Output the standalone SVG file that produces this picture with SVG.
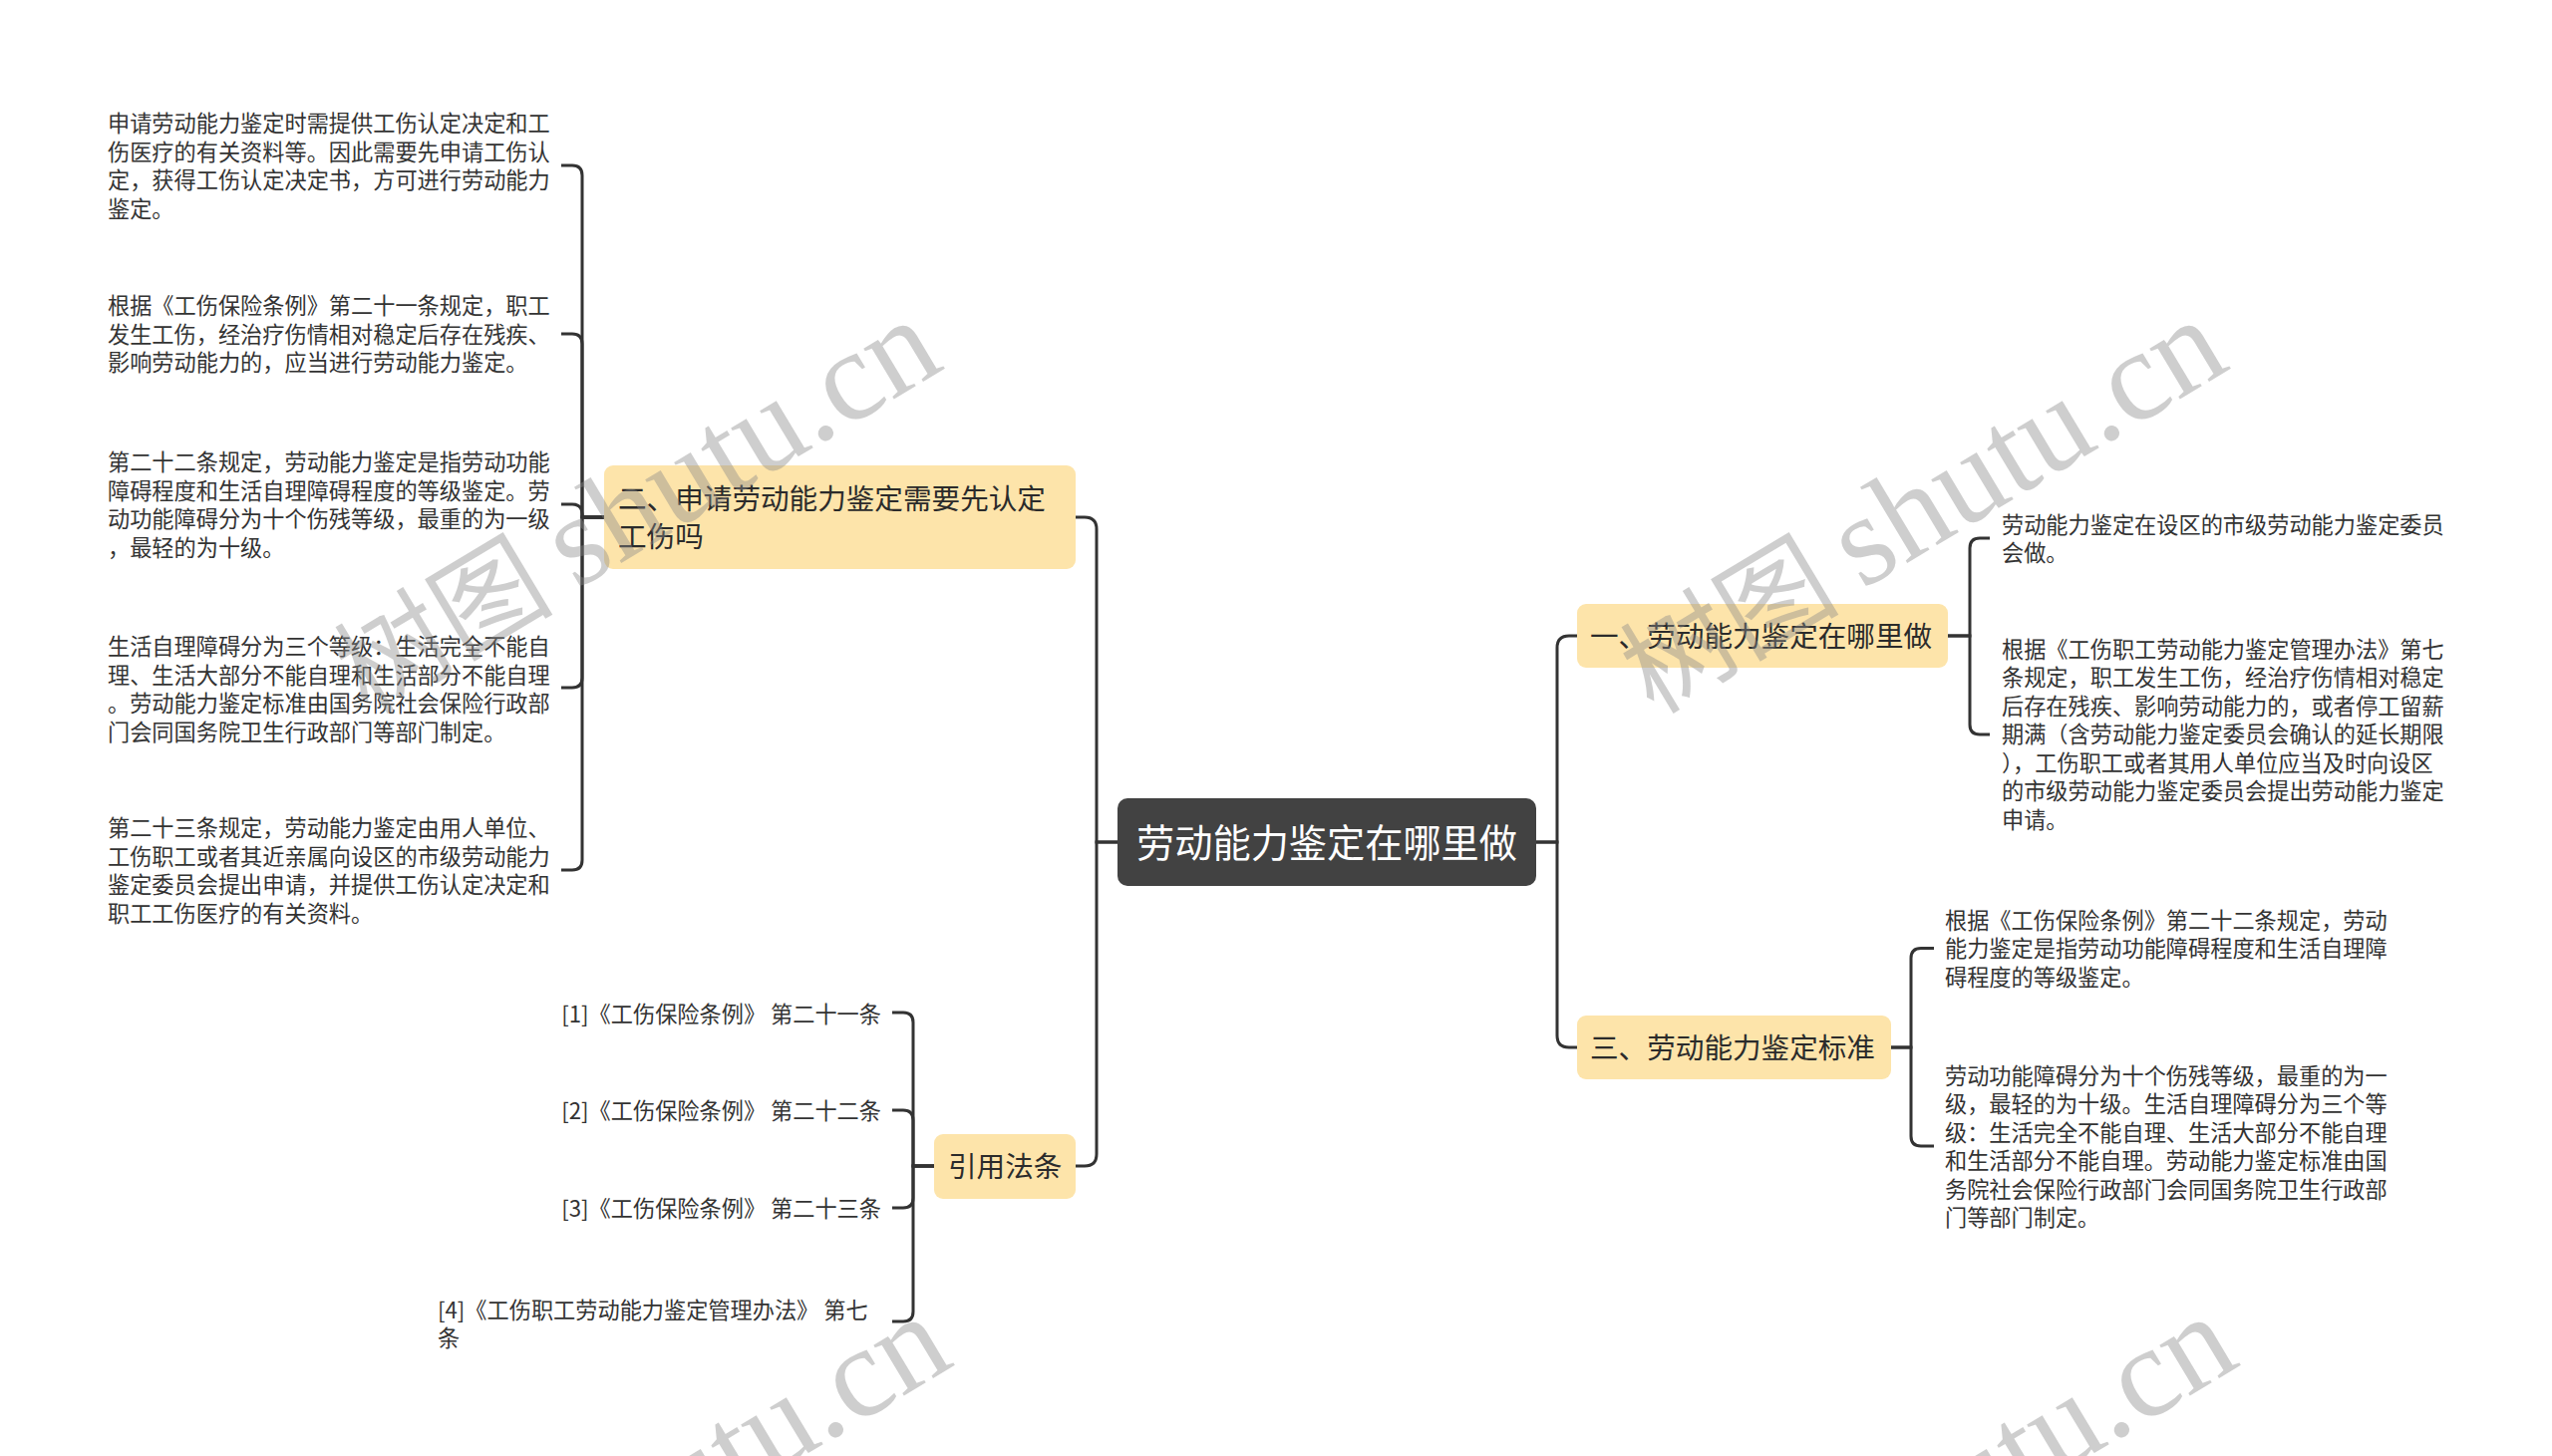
<svg xmlns="http://www.w3.org/2000/svg" width="2560" height="1461" viewBox="0 0 2560 1461">
<style>
.bg{fill:#ffffff}
.root rect{fill:#424242}
.root text{fill:#ffffff;font-family:"Noto Sans CJK SC","Noto Sans",sans-serif;font-size:38.2px}
.main rect{fill:#fde4aa}
.main text{fill:#2b2b2b;font-family:"Noto Sans CJK SC","Noto Sans",sans-serif;font-size:28.6px}
.leaf text{fill:#333333;font-family:"Noto Sans CJK SC","Noto Sans",sans-serif;font-size:22.2px}
#connectors path{fill:none;stroke:#333333;stroke-width:3;stroke-linecap:butt}
.wm text{fill:#8a8a8a;fill-opacity:0.42}
</style>
<defs>
<g id="wm" class="wm">
<g transform="translate(578,592) rotate(-31)">
<text x="-24" y="0" text-anchor="end" style="font-family:'Noto Sans CJK SC',sans-serif;font-size:110px">树图</text>
<text x="0" y="0" style="font-family:'Liberation Serif',serif;font-size:129px">shutu.cn</text>
</g>
</g>
</defs>
<rect class="bg" x="0" y="0" width="2560" height="1461"/>

<g id="connectors">
<path d="M1121 845 H1100 V531 Q1100 519 1088 519 H1079"/>
<path d="M1121 845 H1100 V1158 Q1100 1170 1088 1170 H1079"/>
<path d="M1541 845 H1562 V650 Q1562 638 1574 638 H1582"/>
<path d="M1541 845 H1562 V1039 Q1562 1051 1574 1051 H1582"/>

<path d="M606 519 H584 V176 Q584 166 574 166 H563"/>
<path d="M606 519 H584 V345 Q584 335 574 335 H563"/>
<path d="M606 519 H584 V516 Q584 506 574 506 H563"/>
<path d="M606 519 H584 V680 Q584 690 574 690 H563"/>
<path d="M606 519 H584 V863 Q584 873 574 873 H563"/>

<path d="M937 1170 H916 V1026 Q916 1016 906 1016 H895"/>
<path d="M937 1170 H916 V1124 Q916 1114 906 1114 H895"/>
<path d="M937 1170 H916 V1202 Q916 1212 906 1212 H895"/>
<path d="M937 1170 H916 V1316 Q916 1326 906 1326 H895"/>

<path d="M1954 638 H1976 V550 Q1976 540 1986 540 H1996"/>
<path d="M1954 638 H1976 V727 Q1976 737 1986 737 H1996"/>

<path d="M1897 1051 H1917 V961.5 Q1917 951.5 1927 951.5 H1940"/>
<path d="M1897 1051 H1917 V1140 Q1917 1150 1927 1150 H1940"/>
</g>

<g id="node-root" class="root">
<rect x="1121" y="801" width="420" height="88" rx="10"/>
<text x="1331" y="859.5" text-anchor="middle">劳动能力鉴定在哪里做</text>
</g>

<g id="node-2" class="main">
<rect x="606" y="467" width="473" height="104" rx="9"/>
<text x="620" y="511">二、申请劳动能力鉴定需要先认定</text>
<text x="620" y="549">工伤吗</text>
</g>

<g id="node-cite" class="main">
<rect x="937" y="1138" width="142" height="65" rx="9"/>
<text x="951" y="1181">引用法条</text>
</g>

<g id="node-1" class="main">
<rect x="1582" y="606" width="372" height="64" rx="9"/>
<text x="1595" y="649">一、劳动能力鉴定在哪里做</text>
</g>

<g id="node-3" class="main">
<rect x="1582" y="1019" width="315" height="64" rx="9"/>
<text x="1595" y="1062">三、劳动能力鉴定标准</text>
</g>

<g id="leaf-2-1" class="leaf">
<text x="108" y="132">申请劳动能力鉴定时需提供工伤认定决定和工</text>
<text x="108" y="160.5">伤医疗的有关资料等。因此需要先申请工伤认</text>
<text x="108" y="189">定，获得工伤认定决定书，方可进行劳动能力</text>
<text x="108" y="217.5">鉴定。</text>
</g>
<g id="leaf-2-2" class="leaf">
<text x="108" y="315">根据《工伤保险条例》第二十一条规定，职工</text>
<text x="108" y="343.5">发生工伤，经治疗伤情相对稳定后存在残疾、</text>
<text x="108" y="372">影响劳动能力的，应当进行劳动能力鉴定。</text>
</g>
<g id="leaf-2-3" class="leaf">
<text x="108" y="472">第二十二条规定，劳动能力鉴定是指劳动功能</text>
<text x="108" y="500.5">障碍程度和生活自理障碍程度的等级鉴定。劳</text>
<text x="108" y="529">动功能障碍分为十个伤残等级，最重的为一级</text>
<text x="108" y="557.5">，最轻的为十级。</text>
</g>
<g id="leaf-2-4" class="leaf">
<text x="108" y="657">生活自理障碍分为三个等级：生活完全不能自</text>
<text x="108" y="685.5">理、生活大部分不能自理和生活部分不能自理</text>
<text x="108" y="714">。劳动能力鉴定标准由国务院社会保险行政部</text>
<text x="108" y="742.5">门会同国务院卫生行政部门等部门制定。</text>
</g>
<g id="leaf-2-5" class="leaf">
<text x="108" y="839">第二十三条规定，劳动能力鉴定由用人单位、</text>
<text x="108" y="867.5">工伤职工或者其近亲属向设区的市级劳动能力</text>
<text x="108" y="896">鉴定委员会提出申请，并提供工伤认定决定和</text>
<text x="108" y="924.5">职工工伤医疗的有关资料。</text>
</g>

<g id="leaf-c-1" class="leaf">
<text x="884" y="1025.5" text-anchor="end">[1]《工伤保险条例》 第二十一条</text>
</g>
<g id="leaf-c-2" class="leaf">
<text x="884" y="1122.5" text-anchor="end">[2]《工伤保险条例》 第二十二条</text>
</g>
<g id="leaf-c-3" class="leaf">
<text x="884" y="1220.5" text-anchor="end">[3]《工伤保险条例》 第二十三条</text>
</g>
<g id="leaf-c-4" class="leaf">
<text x="439" y="1322.5">[4]《工伤职工劳动能力鉴定管理办法》 第七</text>
<text x="439" y="1351">条</text>
</g>

<g id="leaf-1-1" class="leaf">
<text x="2008" y="534.5">劳动能力鉴定在设区的市级劳动能力鉴定委员</text>
<text x="2008" y="563">会做。</text>
</g>
<g id="leaf-1-2" class="leaf">
<text x="2008" y="659.5">根据《工伤职工劳动能力鉴定管理办法》第七</text>
<text x="2008" y="688">条规定，职工发生工伤，经治疗伤情相对稳定</text>
<text x="2008" y="716.5">后存在残疾、影响劳动能力的，或者停工留薪</text>
<text x="2008" y="745">期满（含劳动能力鉴定委员会确认的延长期限</text>
<text x="2008" y="773.5">），工伤职工或者其用人单位应当及时向设区</text>
<text x="2008" y="802">的市级劳动能力鉴定委员会提出劳动能力鉴定</text>
<text x="2008" y="830.5">申请。</text>
</g>

<g id="leaf-3-1" class="leaf">
<text x="1951" y="931.5">根据《工伤保险条例》第二十二条规定，劳动</text>
<text x="1951" y="960">能力鉴定是指劳动功能障碍程度和生活自理障</text>
<text x="1951" y="988.5">碍程度的等级鉴定。</text>
</g>
<g id="leaf-3-2" class="leaf">
<text x="1951" y="1087.5">劳动功能障碍分为十个伤残等级，最重的为一</text>
<text x="1951" y="1116">级，最轻的为十级。生活自理障碍分为三个等</text>
<text x="1951" y="1144.5">级：生活完全不能自理、生活大部分不能自理</text>
<text x="1951" y="1173">和生活部分不能自理。劳动能力鉴定标准由国</text>
<text x="1951" y="1201.5">务院社会保险行政部门会同国务院卫生行政部</text>
<text x="1951" y="1230">门等部门制定。</text>
</g>

<g id="watermarks">
<use href="#wm" x="0" y="0"/>
<use href="#wm" x="1290" y="0"/>
<use href="#wm" x="10" y="1000"/>
<use href="#wm" x="1300" y="1000"/>
</g>
</svg>
